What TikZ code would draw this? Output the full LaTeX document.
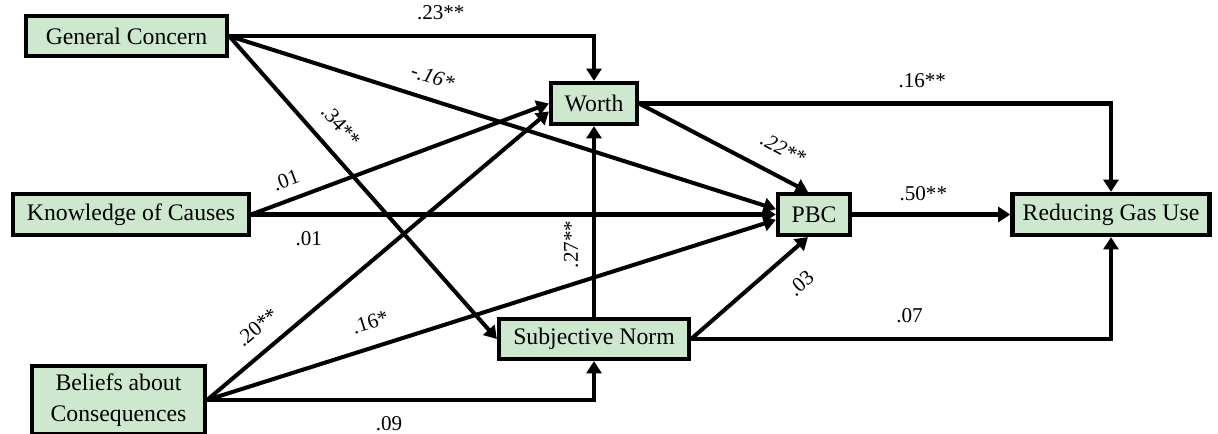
\documentclass[tikz,border=0pt]{standalone}
\usepackage{fontspec}
\setmainfont{Liberation Serif}
\usepackage{tikz}
\usetikzlibrary{arrows.meta}

\definecolor{boxgreen}{RGB}{206,232,207}

\begin{document}
\begin{tikzpicture}[
    x=0.2mm, y=-0.2mm,
    box/.style={draw,line width=2.4pt,fill=boxgreen,align=center,inner sep=0pt,font=\fontsize{13.5}{18}\selectfont},
    arrow/.style={-{Triangle[length=7pt,width=8.5pt]},line width=2.3pt},
    lbl/.style={font=\fontsize{12}{14}\selectfont,inner sep=1pt}
  ]
    \useasboundingbox (0,0) rectangle (1218,434);
    % predictors
    \node[box,minimum width=40.2mm,minimum height=8mm] (concern) at (126.5,36) {General Concern};
    \node[box,minimum width=47.2mm,minimum height=8.2mm] (knowledge) at (131,214.5) {Knowledge of Causes};
    \node[box,minimum width=34.6mm,minimum height=13.6mm] (beliefs) at (118.5,400) {Beliefs about\\Consequences};
    % mediators and outcome
    \node[box,minimum width=17.2mm,minimum height=8.2mm] (worth) at (594,103.5) {Worth};
    \node[box,minimum width=38mm,minimum height=8mm] (subj) at (594,339) {Subjective Norm};
    \node[box,minimum width=14.4mm,minimum height=8.2mm] (pbc) at (814,214.5) {PBC};
    \node[box,minimum width=39.4mm,minimum height=8.2mm] (reduce) at (1111,214.5) {Reducing Gas Use};

    \draw[arrow] (concern.east) -| node[lbl,pos=.29,above=7pt] (l23) {.23**} (worth.north);
    \draw[arrow] (concern.east) -- node[lbl,pos=.36,sloped,above=6.5pt] (l16a) {\itshape -.16*} (pbc.172);
    \draw[arrow] (concern.east) -- node[lbl,pos=.35,sloped,above=7.5pt] (l34) {.34**} (subj.west);
    \draw[arrow] (knowledge.east) -- node[lbl,pos=.14,sloped,above=5pt] (l01a) {.01} (worth.west);
    \draw[arrow] (knowledge.east) -- node[lbl,pos=.11,below=7.4pt] (l01b) {.01} (pbc.west);
    \draw[arrow] (beliefs.east) -- node[lbl,pos=.19,sloped,above=7pt] (l20) {.20**} (worth.190);
    \draw[arrow] (beliefs.east) -- node[lbl,pos=.30,sloped,above=8pt] (l16b) {.16*} (pbc.188);
    \draw[arrow] (beliefs.east) -| node[lbl,pos=.235,below=7.4pt] (l09) {.09} (subj.south);
    \draw[arrow] (subj.north) -- node[lbl,pos=.38,sloped,above=6.8pt] (l27) {.27**} (worth.south);
    \draw[arrow] (worth.east) -- node[lbl,pos=.78,sloped,above=9pt] (l22) {\itshape .22**} (pbc.105);
    \draw[arrow] (subj.east) -- node[lbl,pos=.77,sloped,below=11pt] (l03) {.03} (pbc.255);
    \draw[arrow] (worth.east) -| node[lbl,pos=.30,above=6.8pt] (l16c) {.16**} (reduce.north);
    \draw[arrow] (pbc.east) -- node[lbl,pos=.45,above=5.7pt] (l50) {.50**} (reduce.west);
    \draw[arrow] (subj.east) -| node[lbl,pos=.26,above=6.8pt] (l07) {.07} (reduce.south);
\end{tikzpicture}
\end{document}
